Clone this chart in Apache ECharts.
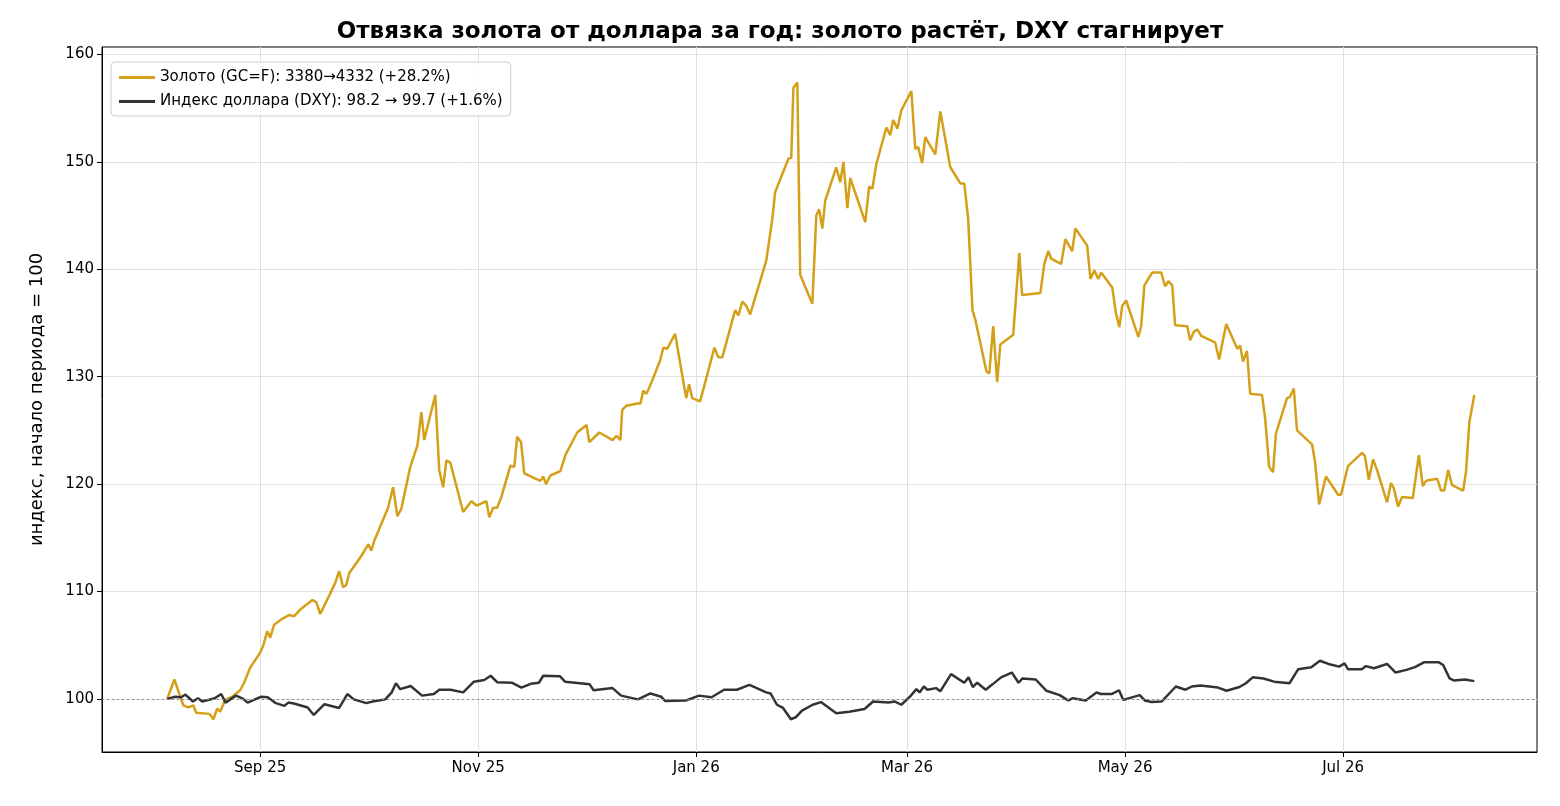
<!DOCTYPE html>
<html><head><meta charset="utf-8">
<script src="https://cdn.jsdelivr.net/npm/echarts@6/dist/echarts.min.js"></script>
<style>html,body{margin:0;padding:0;background:#fff}#c{width:1560px;height:806px}</style>
</head><body><div id="c"></div>
<script>
// days since 2025-08-06
const goldDays = [0,2,4.5,5.9,7.3,8.1,11.8,12.9,14,14.8,16.2,18.2,20.4,21.5,23.2,26,26.9,28,28.8,29.9,32.4,34.1,35.5,37.5,40.6,41.7,42.8,45.6,47,48.1,49.2,50.1,50.9,54.3,56.3,57.1,57.9,61.8,63.2,64.4,65.5,68,70,71.1,71.9,75,76.1,77.2,78.1,79.2,82.8,85.1,86.5,89.3,90.1,91.2,92.3,93.5,96,97.1,97.9,99,99.9,104.4,105.2,106,107.2,110,111.4,114.7,117.3,118.1,120.9,124.6,125.7,126.8,127.3,128.5,131.5,132.4,133.2,134.1,135.4,137.9,138.8,139.9,142.1,145.2,146,146.9,149.1,153.1,154.2,155.3,158.9,159.8,160.9,162,163.1,167.6,169.3,170.1,173.8,174.6,175.2,176.3,177.1,180.5,181.6,182.4,183.3,184.1,187.2,188.3,189.2,190.3,191.1,195.3,196.4,197.3,198.4,201.2,202.3,203.1,204.3,205.4,208.2,209.3,210.1,211.2,212.1,214.9,216.3,219.1,221.9,223,224.1,225.3,226.1,229.2,230,231.1,232.2,233.1,236.7,238.4,239.2,244.3,245.4,246.5,247.3,250.1,251.3,253.2,254.1,257.4,258.3,259.4,260.5,261.3,264.4,265.5,266.4,267.2,268.3,271.7,272.5,273.4,275.6,278.1,279.2,280.1,281.2,282,285.4,286.2,287.3,288.2,289.3,293.2,294.3,296.3,299.4,300.2,301,302.1,303,306.3,307.2,308.3,309.4,310.2,313.3,314.1,315.2,316.1,320.3,321.1,322.3,324.2,327.6,328.4,330.4,334.3,335.1,336.2,337.4,338.5,341.3,342.4,343.2,344.4,345.5,348.5,350.2,351.3,352.2,355.3,356.4,357.3,358.4,359.5,362.6,363.4,364.3,365.7];
const goldVals = [100,101.8,99.4,99.2,99.4,98.7,98.6,98.1,99.1,98.8,99.9,100.2,100.8,101.5,102.9,104.3,105,106.3,105.7,106.9,107.5,107.8,107.7,108.4,109.2,109,107.9,109.8,110.8,111.9,110.4,110.6,111.7,113.3,114.4,113.8,114.7,117.8,119.7,117,117.7,121.6,123.6,126.7,124.1,128.3,121.3,119.7,122.2,122,117.4,118.4,118,118.4,116.9,117.8,117.8,118.8,121.7,121.6,124.4,123.9,121,120.3,120.7,120,120.8,121.2,122.7,124.8,125.5,123.9,124.8,124.1,124.5,124.1,126.9,127.3,127.5,127.5,128.7,128.4,129.4,131.5,132.7,132.6,134,128,129.3,128,127.7,132.7,131.8,131.8,136.2,135.7,137,136.6,135.8,140.8,144.7,147.2,150.3,150.4,156.9,157.4,139.5,136.8,145,145.6,143.8,146.4,149.5,148.1,150,145.7,148.5,144.4,147.7,147.5,149.8,153.2,152.5,153.9,153.1,154.8,156.6,151.2,151.4,149.9,152.3,150.7,154.7,149.5,148,148,144.7,136.2,135.3,130.5,130.3,134.7,129.5,133,133.9,141.5,137.6,137.8,140.5,141.7,141,140.5,142.8,141.7,143.8,142.2,139.1,139.9,139.1,139.7,138.3,135.8,134.6,136.6,137.1,133.7,134.7,138.5,139.7,139.7,138.4,138.9,138.5,134.8,134.7,133.4,134.2,134.4,133.8,133.2,131.6,134.9,132.6,132.9,131.4,132.4,128.4,128.3,126.1,121.6,121.1,124.7,128,128.1,128.9,125,123.7,122.2,118.1,120.7,119,119,121.7,122.9,122.6,120.4,122.3,121.3,118.3,120.1,119.6,117.9,118.8,118.7,122.7,119.8,120.3,120.5,119.4,119.4,121.3,119.9,119.4,121.2,125.7,128.3];
const dxyDays = [0,2.2,3.9,5.1,7.2,8.6,9.8,13.3,15.1,16.3,19.2,21,22.5,26.3,28.1,29.2,30.4,32.8,33.9,35.7,39.3,41,44,48.1,50.4,52.2,55.7,57.5,61,62.8,64,65.2,68.1,71.3,74.6,76.1,79.3,82.8,85.8,88.7,90.5,92.3,96.4,99.1,101.7,104,105.2,109.9,111.3,118.2,119.3,124.6,127,131.7,135.2,138.2,139.3,145.2,148.8,152.3,155.8,159.4,162.9,167.6,168.8,170.6,172.3,174.5,175.9,177.6,180.6,182.9,187.2,190.8,195.1,197.5,201.8,203.6,205.4,207.8,209.6,210.5,211.7,212.7,215.1,216.3,219.3,223,224.2,225.4,226.6,229,230.9,233.3,236.3,238.2,239.3,243,246,249.7,252.1,253.3,257,260,261.2,264.2,266.3,267.5,272.1,273.5,275.4,278.2,282.2,284.9,286.7,289.1,294,296.4,300,301.8,303.7,306.7,309.7,314,316.4,320.1,322.5,324.9,327.9,329.4,330.4,334.2,335.4,337.6,341.3,343.7,346.7,349.1,351.6,355.8,357,358.8,360.1,363.1,365.7];
const dxyVals = [100,100.2,100.15,100.4,99.75,100.05,99.75,100.05,100.45,99.65,100.3,100.05,99.65,100.2,100.15,99.9,99.6,99.35,99.65,99.55,99.2,98.5,99.5,99.15,100.45,99.95,99.6,99.75,99.95,100.6,101.45,100.9,101.2,100.3,100.45,100.85,100.85,100.6,101.6,101.75,102.15,101.55,101.5,101.05,101.4,101.5,102.15,102.1,101.6,101.35,100.8,101,100.3,99.95,100.5,100.2,99.8,99.85,100.3,100.15,100.85,100.85,101.3,100.6,100.5,99.45,99.15,98.1,98.3,98.9,99.45,99.7,98.65,98.8,99.05,99.75,99.65,99.75,99.45,100.2,100.9,100.6,101.15,100.85,101,100.7,102.3,101.5,102,101.1,101.5,100.85,101.35,102,102.45,101.5,101.9,101.8,100.75,100.35,99.85,100.05,99.85,100.6,100.45,100.45,100.8,99.9,100.35,99.85,99.7,99.75,101.15,100.85,101.15,101.25,101.05,100.75,101.1,101.45,102,101.9,101.6,101.45,102.75,102.95,103.55,103.25,103,103.3,102.75,102.75,103.05,102.85,103.25,102.45,102.7,102.95,103.4,103.4,103.15,101.9,101.7,101.8,101.65];
const monthTicks = [26,87,148,207,268,329];
const monthLabels = ['Sep 25','Nov 25','Jan 26','Mar 26','May 26','Jul 26'];
const yTicks = [100,110,120,130,140,150,160];
const goldName = 'Золото (GC=F): 3380→4332 (+28.2%)';
const dxyName = 'Индекс доллара (DXY): 98.2 → 99.7 (+1.6%)';

const zip = (a,b)=>a.map((d,i)=>[d,b[i]]);
const FONT = 'DejaVu Sans';
const chart = echarts.init(document.getElementById('c'));
chart.setOption({
  animation:false,
  textStyle:{fontFamily:FONT},
  title:{text:'Отвязка золота от доллара за год: золото растёт, DXY стагнирует',left:'center',top:16,
    textStyle:{fontFamily:FONT,fontSize:23,fontWeight:'bold',color:'#000'}},
  grid:{left:102,right:23,top:47,bottom:54,show:true,borderColor:'#000',borderWidth:1},
  legend:{left:111,top:62,orient:'vertical',itemGap:9,itemWidth:36,itemHeight:3,
    padding:[8,8,7,8],borderColor:'#ccc',borderWidth:1,borderRadius:4,backgroundColor:'rgba(255,255,255,0.85)',
    textStyle:{fontFamily:FONT,fontSize:15,color:'#000'},
    data:[{name:goldName,icon:'rect'},{name:dxyName,icon:'rect'}]},
  xAxis:{type:'value',min:-18.25,max:383.25,
    axisLine:{show:true,onZero:false,lineStyle:{color:'#000'}},
    axisTick:{show:true,length:5,customValues:monthTicks,lineStyle:{color:'#000'}},
    axisLabel:{customValues:monthTicks,formatter:v=>monthLabels[monthTicks.indexOf(v)],fontFamily:FONT,fontSize:15,color:'#000',margin:9},
    splitLine:{show:true,lineStyle:{color:'#e0e0e0'}}},
  yAxis:{type:'value',min:95.05,max:160.7,
    name:'индекс, начало периода = 100',nameLocation:'middle',nameGap:56,
    nameTextStyle:{fontFamily:FONT,fontSize:18,color:'#000'},
    axisLine:{show:true,onZero:false,lineStyle:{color:'#000'}},
    axisTick:{show:true,length:5,customValues:yTicks,lineStyle:{color:'#000'}},
    axisLabel:{customValues:yTicks,fontFamily:FONT,fontSize:15,color:'#000',margin:8},
    splitLine:{show:true,lineStyle:{color:'#e0e0e0'}}},
  series:[
    {name:goldName,type:'line',data:zip(goldDays,goldVals),showSymbol:false,symbol:'none',
      lineStyle:{color:'#d4a01a',width:2.5},itemStyle:{color:'#d4a01a'}},
    {name:dxyName,type:'line',data:zip(dxyDays,dxyVals),showSymbol:false,symbol:'none',
      lineStyle:{color:'#333333',width:2.5},itemStyle:{color:'#333333'},
      markLine:{silent:true,symbol:'none',label:{show:false},
        lineStyle:{color:'#888',type:[2,3],width:1},data:[{yAxis:100}]}}
  ]
});
</script></body></html>
